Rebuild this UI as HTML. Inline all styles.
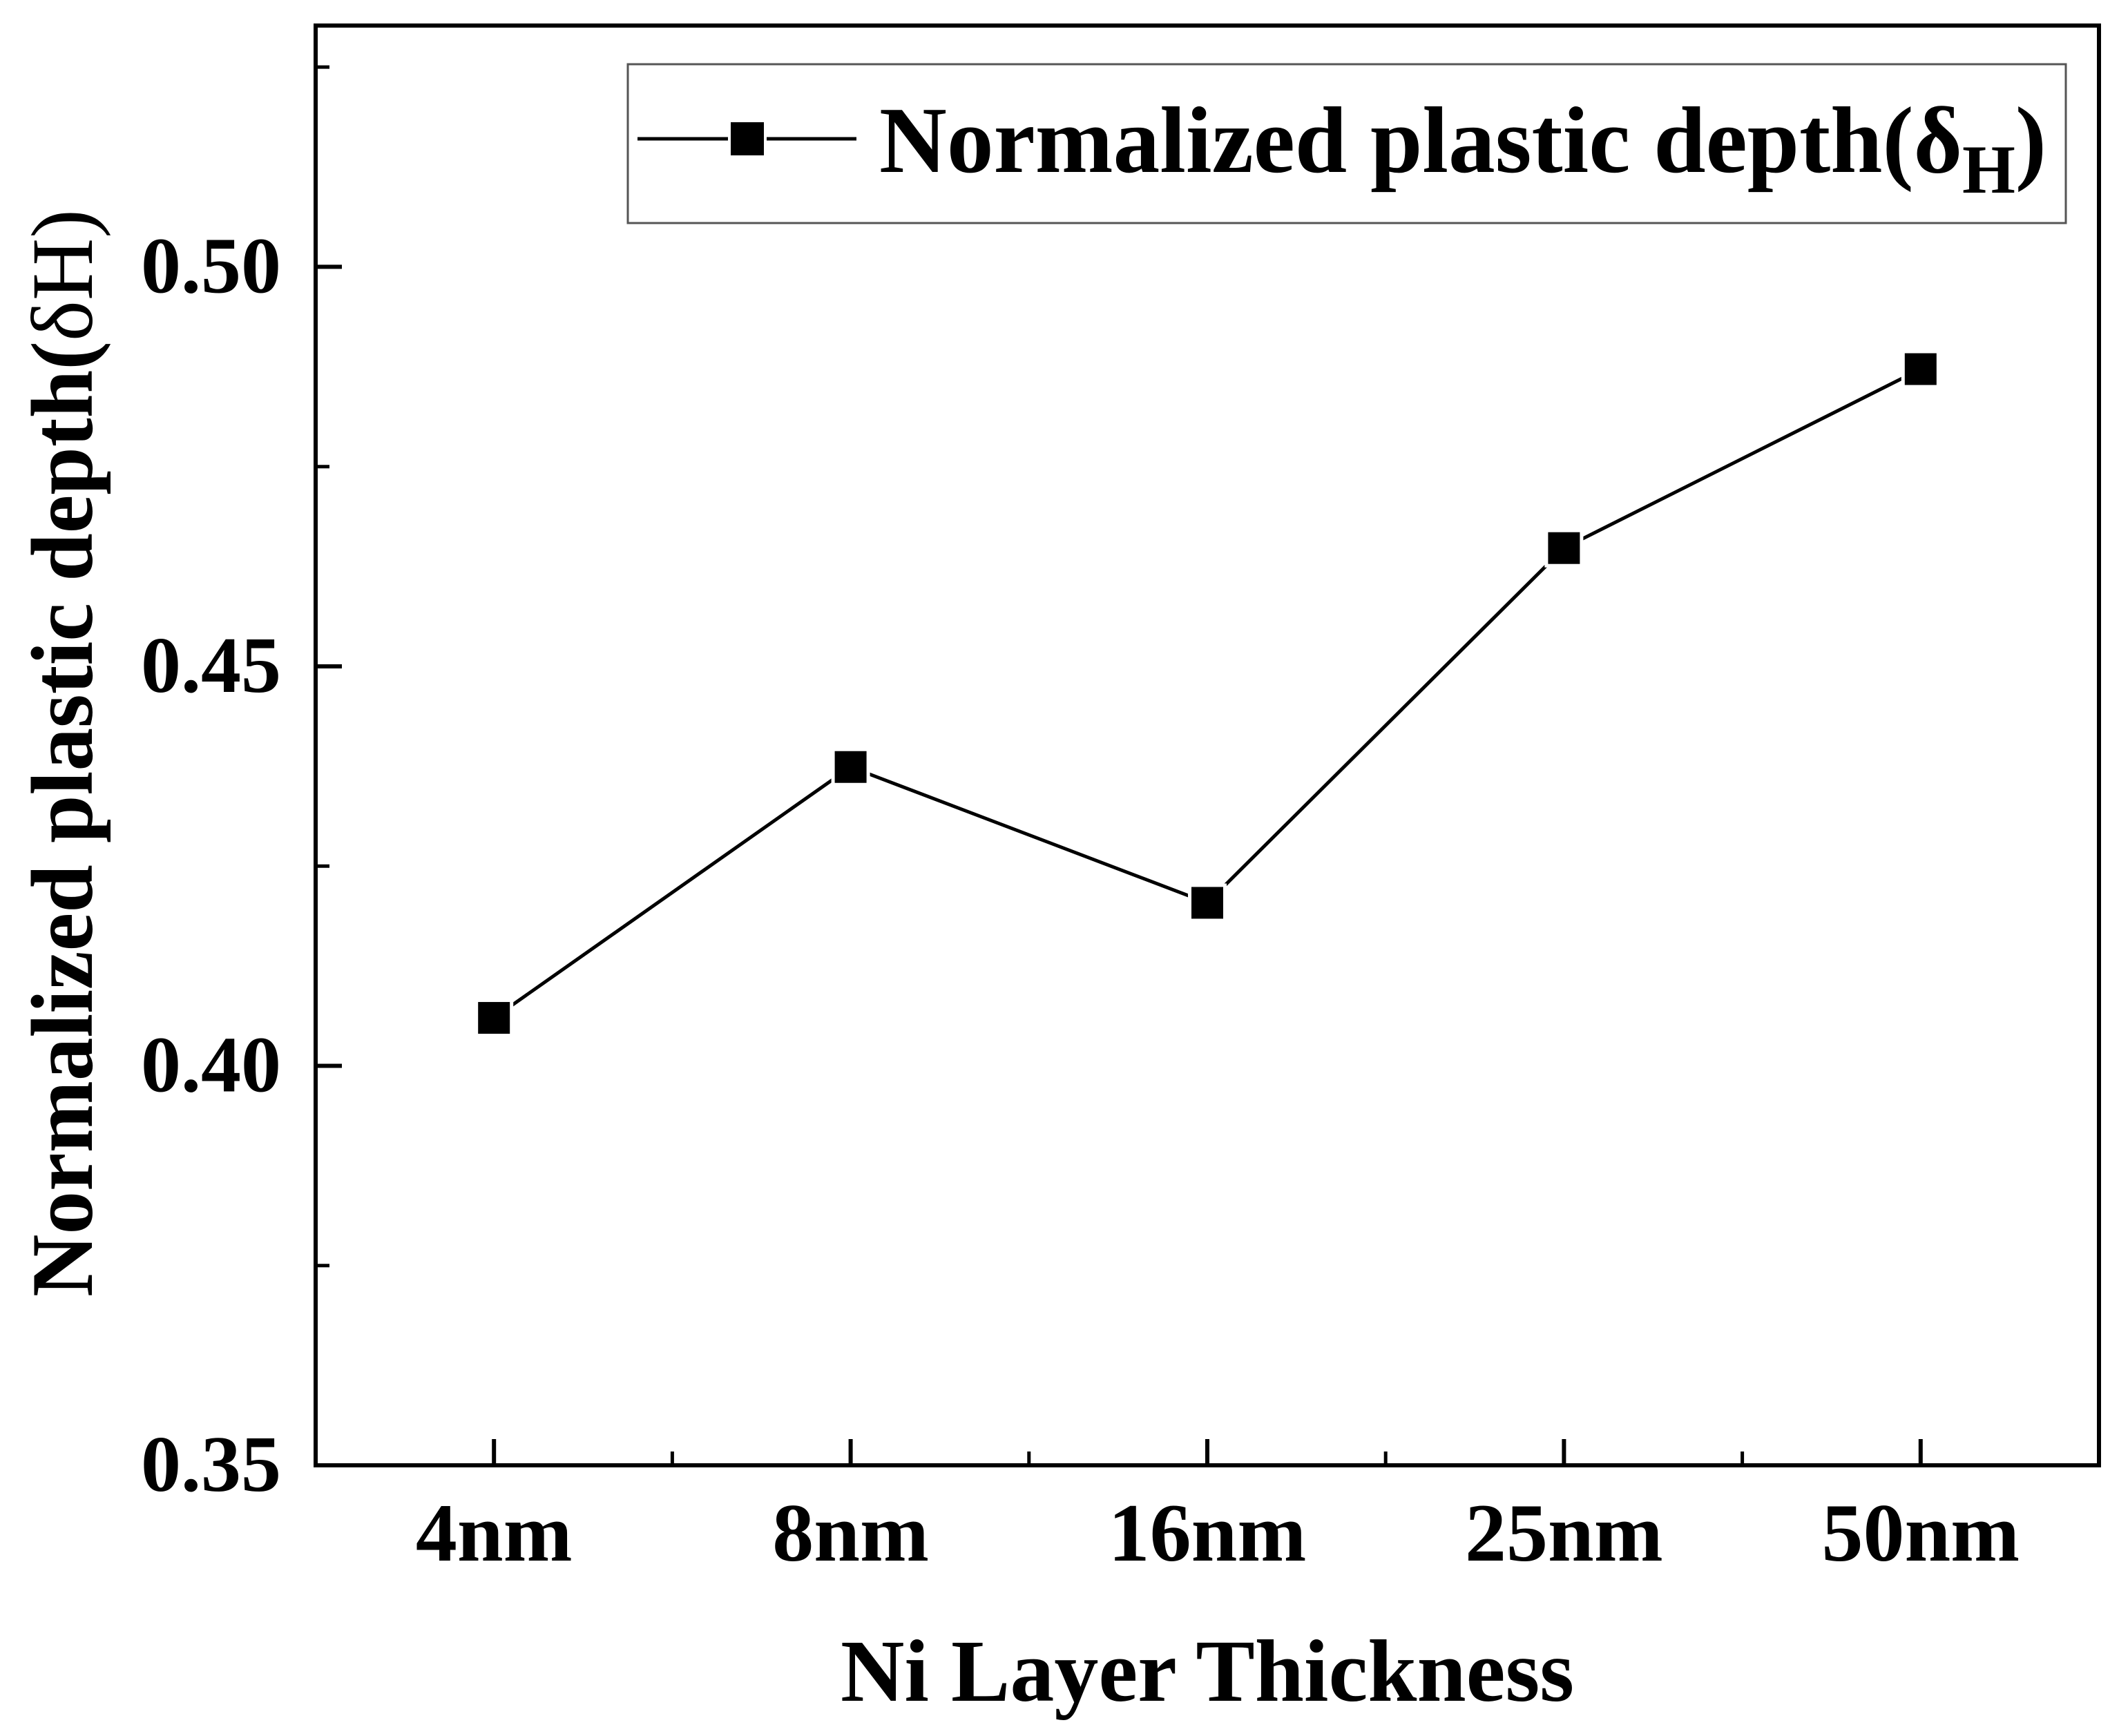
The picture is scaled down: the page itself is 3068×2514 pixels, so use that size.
<!DOCTYPE html>
<html><head><meta charset="utf-8">
<style>
html,body{margin:0;padding:0;background:#fff;}
svg{display:block;font-family:"Liberation Serif",serif;}
</style></head>
<body>
<svg id="chart" width="3068" height="2514" viewBox="0 0 3068 2514" xmlns="http://www.w3.org/2000/svg">
  <rect x="0" y="0" width="3068" height="2514" fill="#fff"/>
  <g id="plot"></g>
  <g id="legend">
    <rect x="909" y="93" width="2082" height="230" fill="#fff" stroke="#555" stroke-width="3"/>
    <line x1="923" y1="201" x2="1240" y2="201" stroke="#000" stroke-width="5"/>
    <rect x="1058" y="177" width="48" height="48" fill="#000" stroke="#fff" stroke-width="8" paint-order="stroke"/>
    <text x="1273" y="249" font-size="137" font-weight="bold" textLength="1690" lengthAdjust="spacingAndGlyphs">Normalized plastic depth(δ<tspan font-size="100" dy="30">H</tspan><tspan dy="-30">)</tspan></text>
  </g>
  <text x="1748" y="2463" font-size="128" font-weight="bold" text-anchor="middle">Ni Layer Thickness</text>
  <text transform="translate(133,1878) rotate(-90)" x="0" y="0" font-size="127" textLength="1575" lengthAdjust="spacingAndGlyphs"><tspan font-weight="bold">Normalized plastic depth(</tspan>δH)</text>
</svg>
<script>
const categories = ["4nm", "8nm", "16nm", "25nm", "50nm"];
const values = [0.406, 0.4374, 0.4204, 0.4648, 0.4872];
const yTicks = [0.35, 0.40, 0.45, 0.50];
const yTickLabels = ["0.35", "0.40", "0.45", "0.50"];
const yMinorTicks = [0.375, 0.425, 0.475, 0.525];

const L = 457, R = 3039, T = 37, B = 2122;
const yMin = 0.35, yMax = 0.5302;
function xScale(i) { return L + (i + 0.5) * (R - L) / categories.length; }
function yScale(v) { return B - (v - yMin) / (yMax - yMin) * (B - T); }

const NS = "http://www.w3.org/2000/svg";
const plot = document.getElementById('plot');
function mk(tag, attrs) {
  const e = document.createElementNS(NS, tag);
  for (const k in attrs) e.setAttribute(k, attrs[k]);
  plot.appendChild(e);
  return e;
}

// frame
const frame = mk('rect', {x: L, y: T, width: R - L, height: B - T, fill: 'none', stroke: '#000', 'stroke-width': 6});



// y ticks
yTicks.forEach((v, i) => {
  const y = yScale(v);
  const t = mk('line', {x1: L, y1: y, x2: L + 38, y2: y, stroke: '#000', 'stroke-width': 6});
  
  
  const lb = mk('text', {x: 407, y: y + 37, 'font-size': 116, 'font-weight': 'bold', 'text-anchor': 'end'});
  lb.textContent = yTickLabels[i];
  
  
});
yMinorTicks.forEach(v => {
  const y = yScale(v);
  const t = mk('line', {x1: L, y1: y, x2: L + 20, y2: y, stroke: '#000', 'stroke-width': 5});
  
  
});

// x ticks
categories.forEach((c, i) => {
  const x = xScale(i);
  const t = mk('line', {x1: x, y1: B, x2: x, y2: B - 38, stroke: '#000', 'stroke-width': 6});
  
  
  const lb = mk('text', {x: x, y: 2260, 'font-size': 120, 'font-weight': 'bold', 'text-anchor': 'middle'});
  lb.textContent = c;
  
  
  if (i < categories.length - 1) {
    const mx = xScale(i + 0.5);
    const m = mk('line', {x1: mx, y1: B, x2: mx, y2: B - 20, stroke: '#000', 'stroke-width': 5});
    
    
  }
});

// line
const pts = values.map((v, i) => xScale(i) + ',' + yScale(v)).join(' ');
const line = mk('polyline', {points: pts, fill: 'none', stroke: '#000', 'stroke-width': 5, 'stroke-linejoin': 'round'});



// markers
values.forEach((v, i) => {
  const m = mk('rect', {x: xScale(i) - 23, y: yScale(v) - 23, width: 46, height: 46, fill: '#000', stroke: '#fff', 'stroke-width': 10, 'paint-order': 'stroke'});
  
  
});
</script>
</body></html>
